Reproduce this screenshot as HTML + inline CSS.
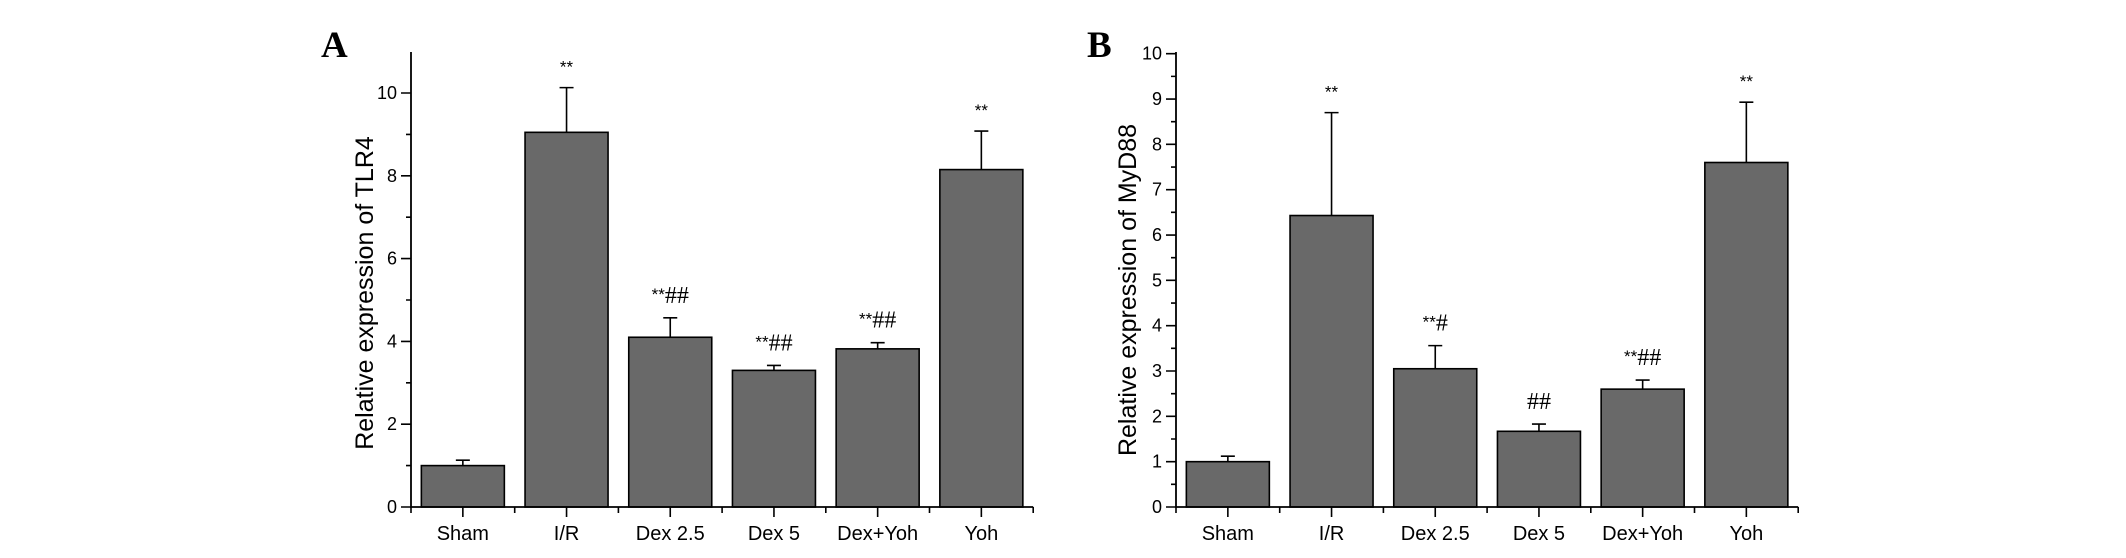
<!DOCTYPE html>
<html><head><meta charset="utf-8"><style>
html,body{margin:0;padding:0;background:#fff;}
svg{display:block;}
.tick{font-family:"Liberation Sans",sans-serif;font-size:18px;fill:#000;}
.xl{font-family:"Liberation Sans",sans-serif;font-size:20px;fill:#000;}
.ttl{font-family:"Liberation Sans",sans-serif;font-size:25px;fill:#000;}
.pl{font-family:"Liberation Serif",serif;font-size:37px;font-weight:bold;fill:#000;}
.star{font-family:"Liberation Sans",sans-serif;font-size:17px;}
.hash{font-family:"Liberation Serif",serif;font-size:24px;}
</style></head><body>
<svg id="chart" width="2126" height="558" viewBox="0 0 2126 558" xmlns="http://www.w3.org/2000/svg"></svg>
<script>
const categories = ["Sham","I/R","Dex 2.5","Dex 5","Dex+Yoh","Yoh"];
const tlr4Values = [1.0, 9.05, 4.1, 3.3, 3.82, 8.15];
const tlr4Errors = [0.13, 1.08, 0.47, 0.12, 0.15, 0.93];
const tlr4Stars = ["", "**", "**", "**", "**", "**"];
const tlr4Hashes = ["", "", "##", "##", "##", ""];
const myd88Values = [1.0, 6.43, 3.05, 1.67, 2.6, 7.6];
const myd88Errors = [0.12, 2.27, 0.51, 0.16, 0.2, 1.33];
const myd88Stars = ["", "**", "**", "", "**", "**"];
const myd88Hashes = ["", "", "#", "##", "##", ""];
const tlr4Ticks = [0,2,4,6,8,10];
const myd88Ticks = [0,1,2,3,4,5,6,7,8,9,10];

const svg = document.getElementById('chart');
const NS = "http://www.w3.org/2000/svg";
function mk(tag, attrs, parent){
  const e = document.createElementNS(NS, tag);
  for (const k in attrs) e.setAttribute(k, attrs[k]);
  (parent||svg).appendChild(e);
  return e;
}

function panel(opt){
  const g = mk('g', {});
  
  
  const x0 = opt.x0, y0 = 507, pitch = 103.7, n = categories.length;
  const yS = v => y0 - v * opt.unit;
  const xC = i => x0 + pitch * (i + 0.5);
  opt.values.forEach((v, i) => {
    const bw = 83;
    const r = mk('rect', {x: xC(i) - bw/2, y: yS(v), width: bw, height: y0 - yS(v), fill: '#696969', stroke: '#000', 'stroke-width': 1.6}, g);
    
    
    const et = yS(v + opt.errors[i]);
    const el = mk('path', {d: `M${xC(i)},${yS(v)}V${et}M${xC(i)-7},${et}H${xC(i)+7}`, stroke: '#000', 'stroke-width': 1.6, fill: 'none'}, g);
    
    
    if (opt.stars[i] || opt.hashes[i]) {
      const t = mk('text', {x: xC(i), y: et - 15, 'text-anchor': 'middle'}, g);
      
      
      if (opt.stars[i]) { const s = mk('tspan', {class: 'star', dy: opt.hashes[i] ? -3 : 0}, t); s.textContent = opt.stars[i]; }
      if (opt.hashes[i]) { const h = mk('tspan', {class: 'hash', dy: opt.stars[i] ? 3 : 0}, t); h.textContent = opt.hashes[i]; }
    }
    const lb = mk('text', {x: xC(i), y: 540, class: 'xl', 'text-anchor': 'middle'}, g);
    
    
    lb.textContent = categories[i];
  });
  const xEnd = x0 + pitch * n;
  const ax = mk('path', {d: `M${x0},${opt.top}V${y0}H${xEnd}`, stroke: '#000', 'stroke-width': 1.8, fill: 'none'}, g);
  
  
  let d = '';
  for (let i = 0; i < n; i++) d += `M${xC(i)},${y0}v10`;
  for (let i = 0; i <= n; i++) d += `M${x0 + pitch*i},${y0}v6`;
  opt.ticks.forEach(v => { d += `M${x0},${yS(v)}h-10`; });
  for (let k = 0; k < opt.ticks.length - 1; k++) {
    const m = (opt.ticks[k] + opt.ticks[k+1]) / 2;
    d += `M${x0},${yS(m)}h-5`;
  }
  const tk = mk('path', {d: d, stroke: '#000', 'stroke-width': 1.6, fill: 'none'}, g);
  
  
  opt.ticks.forEach(v => {
    const t = mk('text', {x: x0 - 14, y: yS(v) + 6, class: 'tick', 'text-anchor': 'end'}, g);
    
    
    t.textContent = v;
  });
  const yt = mk('text', {x: 0, y: 0, class: 'ttl', 'text-anchor': 'middle', transform: `translate(${opt.titleX},${opt.titleY}) rotate(-90)`}, g);
  
  
  yt.textContent = opt.title;
  const pl = mk('text', {x: opt.letterX, y: 57, class: 'pl'}, g);
  
  
  pl.textContent = opt.letter;
}

panel({name: 'panel-a-tlr4', x0: 411, unit: 41.4, top: 52, values: tlr4Values, errors: tlr4Errors, stars: tlr4Stars, hashes: tlr4Hashes, ticks: tlr4Ticks, title: 'Relative expression of TLR4', titleX: 373, titleY: 293, letter: 'A', letterX: 321});
panel({name: 'panel-b-myd88', x0: 1176, unit: 45.33, top: 52, values: myd88Values, errors: myd88Errors, stars: myd88Stars, hashes: myd88Hashes, ticks: myd88Ticks, title: 'Relative expression of MyD88', titleX: 1136, titleY: 290, letter: 'B', letterX: 1087});
</script>
</body></html>
